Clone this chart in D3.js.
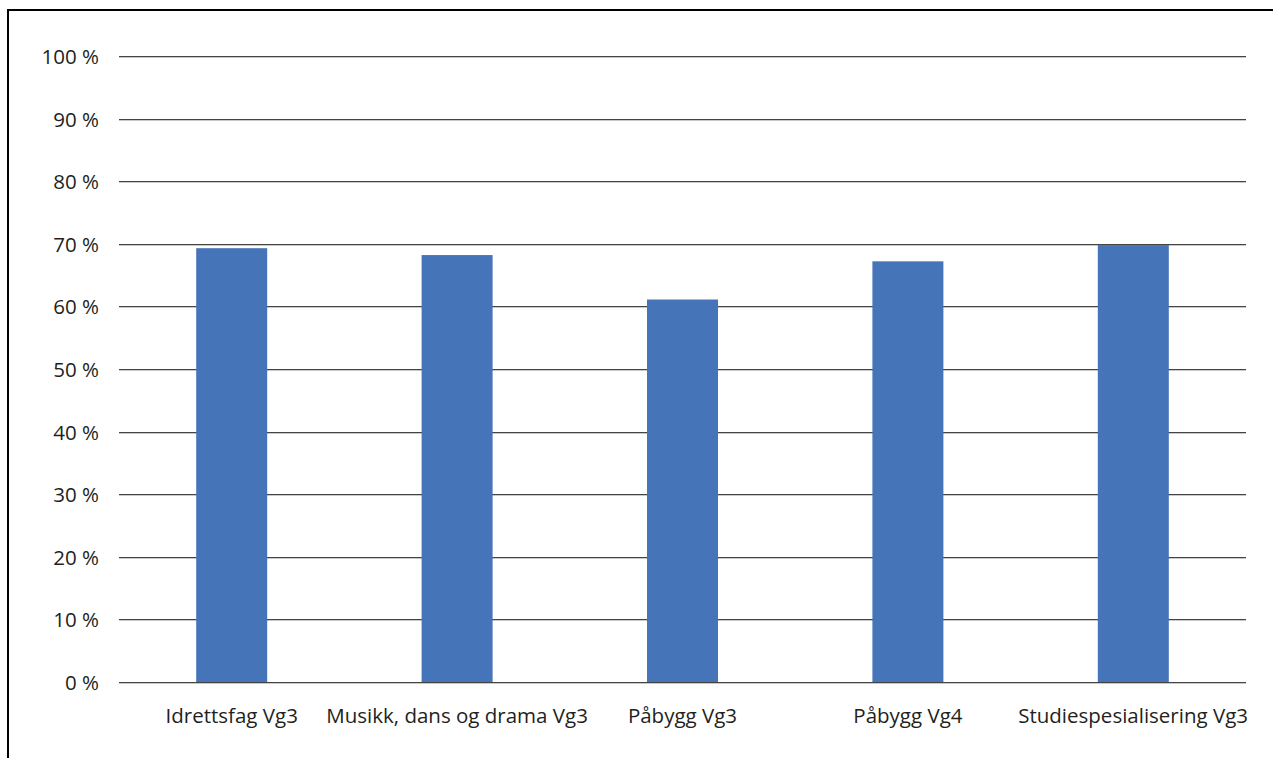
<!DOCTYPE html>
<html><head><meta charset="utf-8">
<script src="https://cdn.jsdelivr.net/npm/d3@7"></script>
<style>
body{margin:0;background:#fff;}
svg{display:block;font-family:"Open Sans",sans-serif;}
</style></head><body>
<svg id="c" width="1273" height="758"></svg>
<script>
const categories = ["Idrettsfag Vg3","Musikk, dans og drama Vg3","Påbygg Vg3","Påbygg Vg4","Studiespesialisering Vg3"];
const values = [69.3, 68.2, 61.1, 67.2, 69.8];
const yTicks = [0,10,20,30,40,50,60,70,80,90,100];
const yTickLabels = yTicks.map(d => d + " %");

(function(){
const svg = d3.select("#c");
const mLeft = 119, mRight = 1246, mTop = 56, mBottom = 682;
const fs = 20.5;

// frame
svg.append("line").attr("x1",8).attr("x2",8).attr("y1",10).attr("y2",758).attr("stroke","#000").attr("stroke-width",2);
svg.append("line").attr("x1",7).attr("x2",1273).attr("y1",10).attr("y2",10).attr("stroke","#000").attr("stroke-width",2);

const x = d3.scaleBand().domain(categories).range([mLeft,mRight]).padding(0);
const y = d3.scaleLinear().domain([0,100]).range([mBottom,mTop]);

// grid
const g = svg.append("g");
yTicks.forEach((t,i)=>{
  const yy = Math.round(y(t));
  g.append("line").attr("x1",mLeft).attr("x2",mRight).attr("y1",yy+1.5).attr("y2",yy+1.5).attr("stroke","#c8c8c8").attr("stroke-width",1);
  g.append("line").attr("x1",mLeft).attr("x2",mRight).attr("y1",yy+0.5).attr("y2",yy+0.5).attr("stroke","#444").attr("stroke-width",1);
  g.append("text").attr("x",99).attr("y",yy+8).attr("text-anchor","end").attr("font-size",fs).attr("fill","#231f20").text(yTickLabels[i]);
});

const bw = 71;
svg.append("g").selectAll("rect").data(categories).join("rect")
  .attr("x", d => x(d) + x.bandwidth()/2 - bw/2)
  .attr("width", bw)
  .attr("y", (d,i) => y(values[i]))
  .attr("height", (d,i) => mBottom - y(values[i]))
  .attr("fill","#4674b9");

svg.append("g").selectAll("text").data(categories).join("text")
  .attr("x", d => x(d) + x.bandwidth()/2)
  .attr("y", 723)
  .attr("text-anchor","middle")
  .attr("font-size",fs)
  .attr("fill","#231f20")
  .text(d => d)
  .each(function(d){
    const w = this.getComputedTextLength();
    const cx = x(d) + x.bandwidth()/2;
    if (cx + w/2 > 1248) d3.select(this).attr("x", 1248 - w/2);
  });
})();
</script>
</body></html>
